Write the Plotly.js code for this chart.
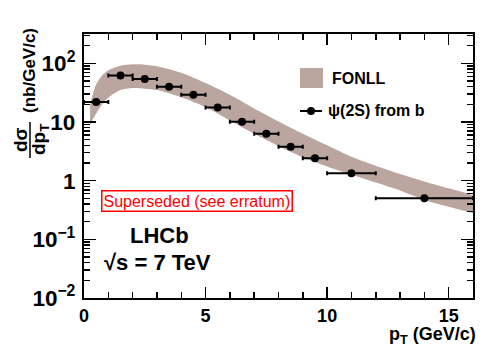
<!DOCTYPE html>
<html>
<head>
<meta charset="utf-8">
<script src="https://cdn.plot.ly/plotly-3.0.1.min.js"></script>
<style>
  html, body { margin: 0; padding: 0; background: #fff; }
  #plot { width: 498px; height: 353px; }
</style>
</head>
<body>
<div id="plot"></div>
<script>
// psi(2S) from b, LHCb 7 TeV
var ptBins = [0.5, 1.5, 2.5, 3.5, 4.5, 5.5, 6.5, 7.5, 8.5, 9.5, 11, 14];
var ptHalfWidth = [0.5, 0.5, 0.5, 0.5, 0.5, 0.5, 0.5, 0.5, 0.5, 0.5, 1, 2];
var xsec = [22, 62, 54, 40, 29, 17.7, 10.1, 6.3, 3.8, 2.4, 1.34, 0.50];
var xsecErr = [2.5, 5, 4.5, 3, 2.3, 1.4, 0.8, 0.5, 0.3, 0.2, 0.12, 0.06];

// FONLL band
var fonllPt = [0.25, 0.5, 0.75, 1, 1.5, 2, 2.5, 3, 4, 5, 6, 7, 8, 9, 10, 11, 12, 13, 14, 15, 16];
var fonllHigh = [20, 44, 62, 76, 91, 96, 95, 89, 69, 46, 29, 17, 10.2, 6.3, 4.0, 2.55, 1.8, 1.3, 0.97, 0.74, 0.57];
var fonllLow = [9, 14, 20, 26, 35, 38, 37, 35, 26.5, 18, 10.6, 6.3, 3.9, 2.5, 1.74, 1.26, 0.93, 0.68, 0.47, 0.36, 0.28];

var bandColor = '#bba69f';
var fnt = 'Liberation Sans, Arial, sans-serif';

// plot area in pixels: l=84 r=473 t=34 b=298
function px(x) { return (x - 84) / 389; }
function py(y) { return (298 - y) / 264; }

var data = [
  {
    x: fonllPt, y: fonllLow, type: 'scatter', mode: 'lines',
    line: {width: 0, shape: 'spline', smoothing: 0.8}, showlegend: false, hoverinfo: 'skip'
  },
  {
    x: fonllPt, y: fonllHigh, type: 'scatter', mode: 'lines',
    line: {width: 0, shape: 'spline', smoothing: 0.8}, fill: 'tonexty', fillcolor: bandColor,
    showlegend: false, name: 'FONLL'
  },
  {
    x: ptBins, y: xsec, type: 'scatter', mode: 'markers',
    marker: {color: 'black', size: 8},
    error_x: {type: 'data', array: ptHalfWidth, color: 'black', thickness: 2, width: 2},
    error_y: {type: 'data', array: xsecErr, color: 'black', thickness: 2, width: 0},
    showlegend: false, name: 'ψ(2S) from b'
  }
];

var tickFont = {family: fnt, size: 18, color: 'black', weight: 'bold'};

var layout = {
  width: 498,
  height: 353,
  margin: {l: 84, r: 25, t: 34, b: 55},
  paper_bgcolor: 'white',
  plot_bgcolor: 'white',
  showlegend: false,
  xaxis: {
    range: [0, 16],
    tick0: 0, dtick: 5,
    ticks: 'inside', ticklen: 11, tickwidth: 1.5, tickcolor: 'black',
    minor: {ticks: 'inside', dtick: 1, ticklen: 6, tickwidth: 1.5, tickcolor: 'black'},
    showline: true, linewidth: 2, linecolor: 'black', mirror: 'ticks',
    showgrid: false, zeroline: false,
    tickfont: tickFont
  },
  yaxis: {
    type: 'log',
    range: [-2, 2.5],
    dtick: 1,
    exponentformat: 'power',
    ticks: 'inside', ticklen: 12, tickwidth: 1.5, tickcolor: 'black',
    minor: {ticks: 'inside', dtick: 'D1', ticklen: 6, tickwidth: 1.5, tickcolor: 'black'},
    showline: true, linewidth: 2, linecolor: 'black', mirror: 'ticks',
    showgrid: false, zeroline: false,
    ticklabelstandoff: 3,
    tickfont: tickFont
  },
  shapes: [
    // fraction bar of y title
    {type: 'line', xref: 'paper', yref: 'paper', x0: px(30), x1: px(30), y0: py(122), y1: py(158),
     line: {color: 'black', width: 1.5}},
    // legend: FONLL box
    {type: 'rect', xref: 'paper', yref: 'paper', x0: px(300), x1: px(323), y0: py(88), y1: py(68),
     fillcolor: bandColor, line: {width: 0}},
    // legend: data line + marker
    {type: 'line', xref: 'paper', yref: 'paper', x0: px(300), x1: px(322), y0: py(111), y1: py(111),
     line: {color: 'black', width: 2}},
    {type: 'circle', xref: 'paper', yref: 'paper', xsizemode: 'pixel', ysizemode: 'pixel',
     xanchor: px(311), yanchor: py(111), x0: -4, x1: 4, y0: -4, y1: 4,
     fillcolor: 'black', line: {width: 0}}
  ],
  annotations: [
    {text: 'FONLL', xref: 'paper', yref: 'paper', x: px(330), y: py(78), xanchor: 'left', yanchor: 'middle',
     showarrow: false, font: {family: fnt, size: 16, color: 'black', weight: 'bold'}},
    {text: 'ψ(2S) from b', xref: 'paper', yref: 'paper', x: px(326), y: py(111), xanchor: 'left', yanchor: 'middle',
     showarrow: false, font: {family: fnt, size: 16, color: 'black', weight: 'bold'}},
    {text: 'Superseded (see erratum)', xref: 'paper', yref: 'paper', x: px(197), y: py(201),
     xanchor: 'center', yanchor: 'middle', showarrow: false,
     bordercolor: 'red', borderwidth: 1.5, borderpad: 1,
     font: {family: fnt, size: 16, color: 'red'}},
    {text: 'LHCb', xref: 'paper', yref: 'paper', x: px(159), y: py(235),
     xanchor: 'center', yanchor: 'middle', showarrow: false,
     font: {family: fnt, size: 22, color: 'black', weight: 'bold'}},
    {text: '√s = 7 TeV', xref: 'paper', yref: 'paper', x: px(157), y: py(262),
     xanchor: 'center', yanchor: 'middle', showarrow: false,
     font: {family: fnt, size: 22, color: 'black', weight: 'bold'}},
    {text: 'p<sub>T</sub> (GeV/c)', xref: 'paper', yref: 'paper', x: px(478), y: py(335),
     xanchor: 'right', yanchor: 'middle', showarrow: false,
     font: {family: fnt, size: 18, color: 'black', weight: 'bold'}},
    {text: '(nb/GeV/c)', xref: 'paper', yref: 'paper', x: px(29), y: py(70), textangle: -90,
     xanchor: 'center', yanchor: 'middle', showarrow: false,
     font: {family: fnt, size: 17, color: 'black', weight: 'bold'}},
    {text: 'dσ', xref: 'paper', yref: 'paper', x: px(20), y: py(140), textangle: -90,
     xanchor: 'center', yanchor: 'middle', showarrow: false,
     font: {family: fnt, size: 19, color: 'black', weight: 'bold'}},
    {text: 'dp<sub>T</sub>', xref: 'paper', yref: 'paper', x: px(40), y: py(140), textangle: -90,
     xanchor: 'center', yanchor: 'middle', showarrow: false,
     font: {family: fnt, size: 19, color: 'black', weight: 'bold'}}
  ]
};

Plotly.newPlot('plot', data, layout, {displayModeBar: false, staticPlot: true});
</script>
</body>
</html>
